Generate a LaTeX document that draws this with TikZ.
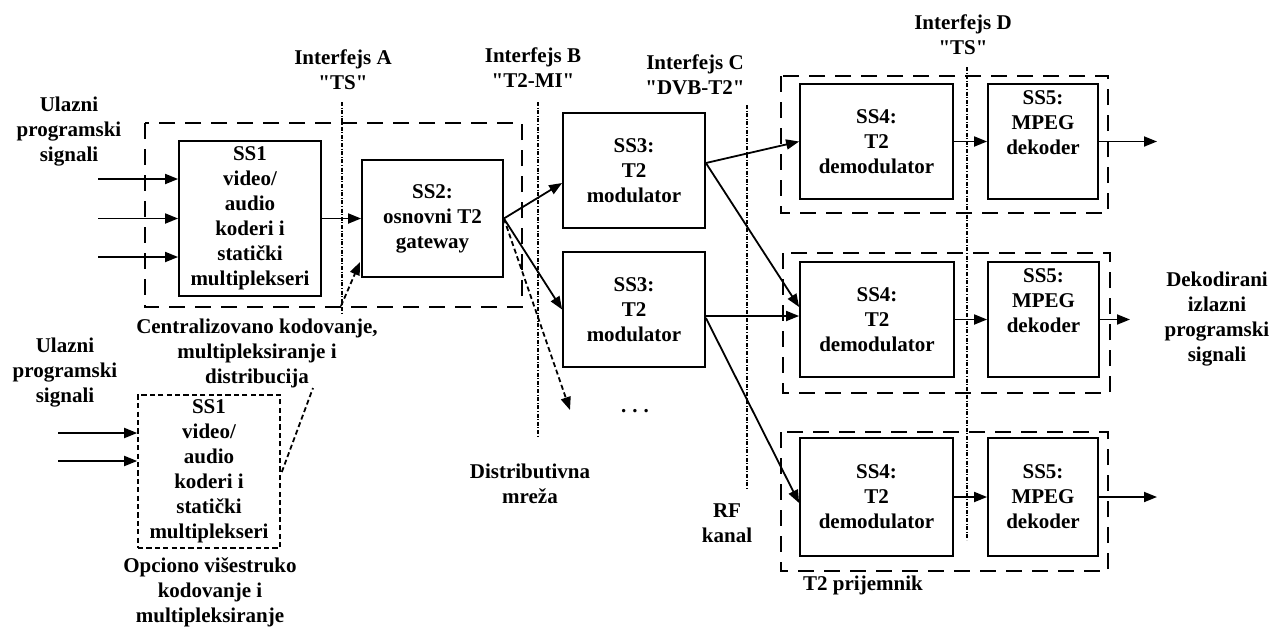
\documentclass[tikz,border=0pt]{standalone}
\usepackage{fontspec}
\setmainfont{Liberation Serif}[Ligatures=TeXOff]
\usetikzlibrary{arrows.meta}
\begin{document}
\begin{tikzpicture}[x=0.5pt,y=-0.5pt,
  every node/.style={font=\bfseries\fontsize{10.5}{12.5}\selectfont, align=center, inner sep=0pt},
  blk/.style 2 args={draw, line width=0.9pt, minimum width=#1, minimum height=#2},
  optblk/.style 2 args={draw, line width=0.8pt, dash pattern=on 2.6pt off 1.6pt, minimum width=#1, minimum height=#2},
  grp/.style={draw, line width=0.8pt, dash pattern=on 8pt off 5pt},
  iface/.style={draw, line width=0.55pt, dash pattern=on 2pt off 0.8pt on 0.5pt off 0.8pt},
  arr/.style={draw, line width=0.9pt, -{Triangle[length=6.5pt,width=5pt]}},
  darr/.style={draw, line width=0.9pt, dash pattern=on 2.5pt off 1.5pt, -{Triangle[length=6.5pt,width=5pt]}},
  dln/.style={draw, line width=0.9pt, dash pattern=on 2.5pt off 1.5pt},
]
\useasboundingbox (0,0) rectangle (1282,628);

% group frames
\draw[grp] (145,123) rectangle (522,307);
\draw[grp] (781,76) rectangle (1108,213);
\draw[grp] (783,253) rectangle (1110,393);
\draw[grp] (781,432) rectangle (1108,571);

% interface lines
\draw[iface] (342,102) -- (342,313);
\draw[iface] (538,102) -- (538,437);
\draw[iface] (747,105) -- (747,490);
\draw[iface] (967,67) -- (967,540);

% blocks
\node[blk={71pt}{77.5pt}] (ss1) at (250,218.5) {SS1\\video/\\audio\\koderi i\\statički\\multiplekseri};
\node[blk={70.5pt}{58.5pt}] (ss2) at (432.5,218.5) {SS2:\\osnovni T2\\gateway};
\node[blk={71pt}{57.5pt}] (ss3a) at (634,170.5) {SS3:\\T2\\modulator};
\node[blk={71pt}{57.5pt}] (ss3b) at (634,309.5) {SS3:\\T2\\modulator};
\node[blk={76.5pt}{57.5pt}] (ss4a) at (876.5,141.5) {SS4:\\T2\\demodulator};
\node[blk={55pt}{57.5pt}] (ss5a) at (1043,141.5) {SS5:\\MPEG\\dekoder\\[6pt]};
\node[blk={77pt}{57.5pt}] (ss4b) at (877,319.5) {SS4:\\T2\\demodulator};
\node[blk={55.5pt}{57.5pt}] (ss5b) at (1043.5,319.5) {SS5:\\MPEG\\dekoder\\[6pt]};
\node[blk={76.5pt}{59pt}] (ss4c) at (876.5,497) {SS4:\\T2\\demodulator};
\node[blk={55pt}{59pt}] (ss5c) at (1043,497) {SS5:\\MPEG\\dekoder};
\node[optblk={71pt}{76.5pt}] (ss1o) at (209,471.5) {SS1\\video/\\audio\\koderi i\\statički\\multiplekseri};

% labels
\node (ul1) at (69,132) {Ulazni\\programski\\signali};
\node (ul2) at (65,373) {Ulazni\\programski\\signali};
\node (ifa) at (343,70) {Interfejs A\\"TS"};
\node (ifb) at (533,67.5) {Interfejs B\\"T2-MI"};
\node (ifc) at (695,74.5) {Interfejs C\\"DVB-T2"};
\node (ifd) at (963,34.5) {Interfejs D\\"TS"};
\node (cent) at (257,353) {Centralizovano kodovanje,\\multipleksiranje i\\distribucija};
\node (opc) at (210,592) {Opciono višestruko\\kodovanje i\\multipleksiranje};
\node (dist) at (530,483.5) {Distributivna\\mreža};
\node (rf) at (727,523.5) {RF\\kanal};
\node (dots) at (635,411) {.\hspace{3pt}.\hspace{3pt}.};
\node (dek) at (1217,319.5) {Dekodirani\\izlazni\\programski\\signali};
\node (prij) at (863,585) {T2 prijemnik};

% free-end coordinates
\coordinate (i1) at (98,179);
\coordinate (i2) at (98,218.5);
\coordinate (i3) at (98,257);
\coordinate (j1) at (58,433);
\coordinate (j2) at (58,461);
\coordinate (ctail) at (341,306);
\coordinate (chead) at (360,262);
\coordinate (otail) at (313,388);
\coordinate (dend) at (570,410);
\coordinate (o1) at (1157,141.5);
\coordinate (o2) at (1130,319.5);
\coordinate (o3) at (1157,497);

% connectors
\draw[arr] (i1) -- (ss1.west |- i1);
\draw[arr] (i2) -- (ss1.west |- i2);
\draw[arr] (i3) -- (ss1.west |- i3);
\draw[arr] (j1) -- (ss1o.west |- j1);
\draw[arr] (j2) -- (ss1o.west |- j2);
\draw[arr] (ss1.east) -- (ss2.west);
\draw[darr] (ctail) -- (chead);
\draw[dln] ([shift={(1,0.5)}]ss1o.east) -- (otail);
\draw[arr] (ss2.east) -- ([shift={(0,12.5)}]ss3a.west);
\draw[arr] (ss2.east) -- (ss3b.west);
\draw[darr] (ss2.east) -- (dend);
\draw[arr] ([shift={(0,-7.5)}]ss3a.east) -- (ss4a.west);
\draw[arr] ([shift={(0,-7.5)}]ss3a.east) -- ([shift={(0,-12.5)}]ss4b.west);
\draw[arr] ([shift={(0,6.5)}]ss3b.east) -- ([shift={(0,-3.5)}]ss4b.west);
\draw[arr] ([shift={(0,8.5)}]ss3b.east) -- ([shift={(0,6)}]ss4c.west);
\draw[arr] (ss4a.east) -- (ss5a.west);
\draw[arr] (ss4b.east) -- (ss5b.west);
\draw[arr] (ss4c.east) -- (ss5c.west);
\draw[arr] (ss5a.east) -- (o1);
\draw[arr] (ss5b.east) -- (o2);
\draw[arr] (ss5c.east) -- (o3);
\end{tikzpicture}
\end{document}
